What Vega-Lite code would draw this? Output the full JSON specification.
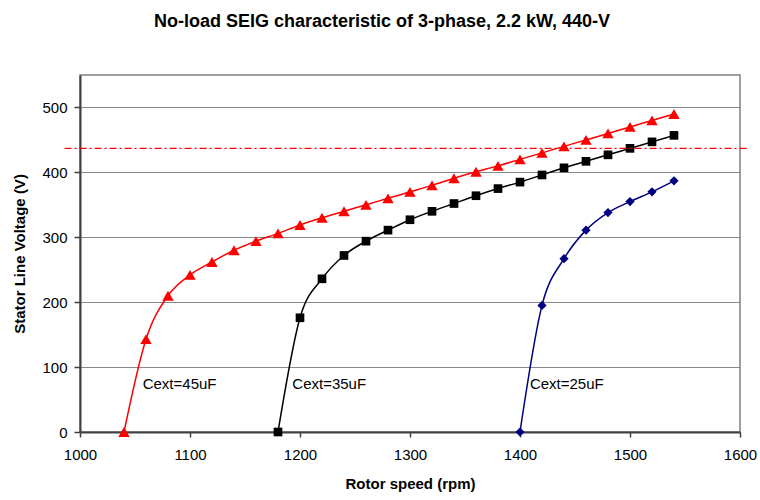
{
  "$schema": "https://vega.github.io/schema/vega-lite/v6.json",
  "width": 660,
  "height": 357,
  "autosize": {"type": "none"},
  "padding": {"left": 80, "top": 75, "right": 20, "bottom": 69},
  "background": "white",
  "config": {
    "font": "Liberation Sans",
    "view": {"stroke": "#808080", "strokeWidth": 1.5}
  },
  "title": {
    "text": "No-load SEIG characteristic of 3-phase, 2.2 kW, 440-V",
    "font": "Liberation Sans",
    "fontSize": 18,
    "fontWeight": "bold",
    "color": "#000000",
    "anchor": "middle",
    "frame": "group",
    "baseline": "alphabetic",
    "offset": 30,
    "dx": -28
  },
  "datasets": {
    "curves": [
      {"speed": 1040, "voltage": 0, "series": "45uF"},
      {"speed": 1060, "voltage": 143, "series": "45uF"},
      {"speed": 1080, "voltage": 210, "series": "45uF"},
      {"speed": 1100, "voltage": 242, "series": "45uF"},
      {"speed": 1120, "voltage": 262, "series": "45uF"},
      {"speed": 1140, "voltage": 280, "series": "45uF"},
      {"speed": 1160, "voltage": 294, "series": "45uF"},
      {"speed": 1180, "voltage": 306, "series": "45uF"},
      {"speed": 1200, "voltage": 319, "series": "45uF"},
      {"speed": 1220, "voltage": 330, "series": "45uF"},
      {"speed": 1240, "voltage": 340, "series": "45uF"},
      {"speed": 1260, "voltage": 350, "series": "45uF"},
      {"speed": 1280, "voltage": 360, "series": "45uF"},
      {"speed": 1300, "voltage": 370, "series": "45uF"},
      {"speed": 1320, "voltage": 380, "series": "45uF"},
      {"speed": 1340, "voltage": 391, "series": "45uF"},
      {"speed": 1360, "voltage": 401, "series": "45uF"},
      {"speed": 1380, "voltage": 410, "series": "45uF"},
      {"speed": 1400, "voltage": 420, "series": "45uF"},
      {"speed": 1420, "voltage": 430, "series": "45uF"},
      {"speed": 1440, "voltage": 440, "series": "45uF"},
      {"speed": 1460, "voltage": 450, "series": "45uF"},
      {"speed": 1480, "voltage": 460, "series": "45uF"},
      {"speed": 1500, "voltage": 470, "series": "45uF"},
      {"speed": 1520, "voltage": 480, "series": "45uF"},
      {"speed": 1540, "voltage": 490, "series": "45uF"},
      {"speed": 1180, "voltage": 0, "series": "35uF"},
      {"speed": 1200, "voltage": 176, "series": "35uF"},
      {"speed": 1220, "voltage": 236, "series": "35uF"},
      {"speed": 1240, "voltage": 272, "series": "35uF"},
      {"speed": 1260, "voltage": 294, "series": "35uF"},
      {"speed": 1280, "voltage": 311, "series": "35uF"},
      {"speed": 1300, "voltage": 327, "series": "35uF"},
      {"speed": 1320, "voltage": 340, "series": "35uF"},
      {"speed": 1340, "voltage": 352, "series": "35uF"},
      {"speed": 1360, "voltage": 364, "series": "35uF"},
      {"speed": 1380, "voltage": 375, "series": "35uF"},
      {"speed": 1400, "voltage": 385, "series": "35uF"},
      {"speed": 1420, "voltage": 396, "series": "35uF"},
      {"speed": 1440, "voltage": 407, "series": "35uF"},
      {"speed": 1460, "voltage": 417, "series": "35uF"},
      {"speed": 1480, "voltage": 427, "series": "35uF"},
      {"speed": 1500, "voltage": 437, "series": "35uF"},
      {"speed": 1520, "voltage": 447, "series": "35uF"},
      {"speed": 1540, "voltage": 457, "series": "35uF"},
      {"speed": 1400, "voltage": 0, "series": "25uF"},
      {"speed": 1420, "voltage": 195, "series": "25uF"},
      {"speed": 1440, "voltage": 267, "series": "25uF"},
      {"speed": 1460, "voltage": 311, "series": "25uF"},
      {"speed": 1480, "voltage": 338, "series": "25uF"},
      {"speed": 1500, "voltage": 355, "series": "25uF"},
      {"speed": 1520, "voltage": 370, "series": "25uF"},
      {"speed": 1540, "voltage": 387, "series": "25uF"}
    ],
    "rated": [{"x": 986, "x2": 1608, "y": 437}],
    "labels": [
      {"speed": 1057, "voltage": 74, "text": "Cext=45uF"},
      {"speed": 1193, "voltage": 74, "text": "Cext=35uF"},
      {"speed": 1409, "voltage": 74, "text": "Cext=25uF"}
    ]
  },
  "layer": [
    {
      "data": {"name": "curves"},
      "mark": {"type": "line", "interpolate": "monotone", "strokeWidth": 1.5},
      "encoding": {
        "x": {
          "field": "speed", "type": "quantitative",
          "scale": {"domain": [1000, 1600], "nice": false, "zero": false},
          "axis": {
            "title": "Rotor speed (rpm)",
            "values": [1000, 1100, 1200, 1300, 1400, 1500, 1600],
            "format": "d",
            "grid": false,
            "labelFlush": false,
            "domainColor": "#404040", "domainWidth": 2,
            "tickColor": "#404040", "tickWidth": 1.5, "tickSize": 5,
            "labelFont": "Liberation Sans", "labelFontSize": 15, "labelColor": "#000000",
            "labelPadding": 10,
            "titleFont": "Liberation Sans", "titleFontSize": 15, "titleFontWeight": "bold", "titleColor": "#000000",
            "titlePadding": 14
          }
        },
        "y": {
          "field": "voltage", "type": "quantitative",
          "scale": {"domain": [0, 550], "nice": false},
          "axis": {
            "title": "Stator Line Voltage (V)",
            "values": [0, 100, 200, 300, 400, 500],
            "grid": true, "gridColor": "#888888", "gridWidth": 1.2,
            "labelFlush": false,
            "domainColor": "#404040", "domainWidth": 2,
            "tickColor": "#404040", "tickWidth": 1.5, "tickSize": 6,
            "labelFont": "Liberation Sans", "labelFontSize": 15, "labelColor": "#000000",
            "labelPadding": 7,
            "titleFont": "Liberation Sans", "titleFontSize": 15, "titleFontWeight": "bold", "titleColor": "#000000",
            "titlePadding": 14
          }
        },
        "color": {
          "field": "series", "type": "nominal",
          "scale": {"domain": ["45uF", "35uF", "25uF"], "range": ["#FF0000", "#000000", "#000080"]},
          "legend": null
        },
        "detail": {"field": "series"}
      }
    },
    {
      "data": {"name": "curves"},
      "mark": {"type": "point", "filled": true, "opacity": 1},
      "encoding": {
        "x": {"field": "speed", "type": "quantitative"},
        "y": {"field": "voltage", "type": "quantitative"},
        "color": {"field": "series", "type": "nominal", "legend": null},
        "shape": {
          "field": "series", "type": "nominal",
          "scale": {"domain": ["45uF", "35uF", "25uF"], "range": ["triangle-up", "square", "diamond"]},
          "legend": null
        },
        "size": {
          "field": "series", "type": "nominal",
          "scale": {"type": "ordinal", "domain": ["45uF", "35uF", "25uF"], "range": [130, 75, 85]},
          "legend": null
        }
      }
    },
    {
      "data": {"name": "rated"},
      "mark": {"type": "rule", "color": "#FF0000", "strokeWidth": 1.2, "strokeDash": [7, 3, 2, 3]},
      "encoding": {
        "x": {"field": "x", "type": "quantitative"},
        "x2": {"field": "x2"},
        "y": {"field": "y", "type": "quantitative"}
      }
    },
    {
      "data": {"name": "labels"},
      "mark": {"type": "text", "align": "left", "baseline": "middle", "font": "Liberation Sans", "fontSize": 15, "color": "#000000"},
      "encoding": {
        "x": {"field": "speed", "type": "quantitative"},
        "y": {"field": "voltage", "type": "quantitative"},
        "text": {"field": "text"}
      }
    }
  ]
}
